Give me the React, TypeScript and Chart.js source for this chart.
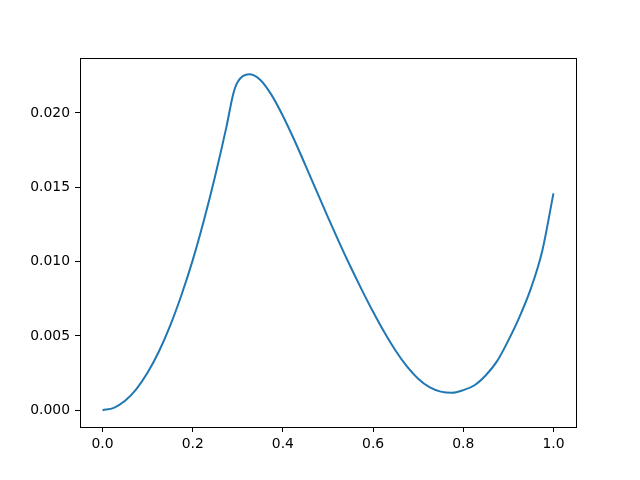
import React, { useEffect, useRef } from "react";
import { Chart, registerables } from "chart.js";

Chart.register(...registerables);

const xValues = [0, 0.025, 0.05, 0.075, 0.1, 0.125, 0.15, 0.175, 0.2, 0.225, 0.25, 0.275, 0.29, 0.3, 0.325, 0.35, 0.375, 0.4, 0.425, 0.45, 0.475, 0.5, 0.525, 0.55, 0.575, 0.6, 0.625, 0.65, 0.675, 0.7, 0.725, 0.75, 0.775, 0.8, 0.825, 0.85, 0.875, 0.9, 0.925, 0.95, 0.975, 1.0];
const yValues = [0, 0.00016, 0.00063, 0.00142, 0.00253, 0.00395, 0.00569, 0.00775, 0.0101, 0.0128, 0.0158, 0.0191, 0.0213, 0.0221, 0.0226, 0.02222, 0.0212, 0.0198, 0.0182, 0.01648, 0.01472, 0.01298, 0.01128, 0.00965, 0.0081, 0.00662, 0.00524, 0.004, 0.00295, 0.00212, 0.00155, 0.00125, 0.00117, 0.00135, 0.00168, 0.00235, 0.0033, 0.0047, 0.0063, 0.0082, 0.0107, 0.01459];
const xTicks = [0, 0.2, 0.4, 0.6, 0.8, 1.0];
const yTicks = [0, 0.005, 0.01, 0.015, 0.02];

const framePlugin = {
  id: "frame",
  afterDraw(chart: any) {
    const { ctx, chartArea } = chart;
    ctx.save();
    ctx.strokeStyle = "#000";
    ctx.lineWidth = 1;
    ctx.strokeRect(Math.round(chartArea.left) + 0.5, Math.round(chartArea.top) + 0.5, Math.round(chartArea.right - chartArea.left), Math.round(chartArea.bottom - chartArea.top));
    ctx.restore();
  },
};

export default function App() {
  const ref = useRef<HTMLCanvasElement>(null);
  useEffect(() => {
    const font = { family: "DejaVu Sans", size: 13.9 };
    const chart = new Chart(ref.current!, {
      type: "line",
      data: {
        datasets: [
          {
            data: xValues.map((x, i) => ({ x, y: yValues[i] })),
            borderColor: "#1f77b4",
            borderWidth: 2,
            pointRadius: 0,
            fill: false,
            cubicInterpolationMode: "monotone",
          },
        ],
      },
      plugins: [framePlugin],
      options: {
        animation: false,
        responsive: false,
        layout: { padding: { left: 0, right: 64, top: 58, bottom: 0 } },
        plugins: { legend: { display: false }, tooltip: { enabled: false } },
        scales: {
          x: {
            type: "linear",
            min: -0.05,
            max: 1.05,
            afterBuildTicks: (s: any) => {
              s.ticks = xTicks.map((v) => ({ value: v }));
            },
            afterFit: (s: any) => {
              s.height = 53;
            },
            ticks: { color: "#000", font, padding: 4, maxRotation: 0, autoSkip: false, callback: (v: any) => Number(v).toFixed(1) },
            grid: { drawOnChartArea: false, drawTicks: true, tickLength: 5, color: "#000" },
            border: { display: true, color: "#000" },
          },
          y: {
            type: "linear",
            min: -0.00113,
            max: 0.0237,
            afterBuildTicks: (s: any) => {
              s.ticks = yTicks.map((v) => ({ value: v }));
            },
            afterFit: (s: any) => {
              s.width = 80;
            },
            ticks: { color: "#000", font, padding: 5, autoSkip: false, callback: (v: any) => Number(v).toFixed(3) },
            grid: { drawOnChartArea: false, drawTicks: true, tickLength: 5, color: "#000" },
            border: { display: true, color: "#000" },
          },
        },
      },
    } as any);
    return () => chart.destroy();
  }, []);
  return (
    <div style={{ position: "fixed", left: 0, top: 0, width: 640, height: 480, background: "#fff" }}>
      <canvas ref={ref} width={640} height={480} />
    </div>
  );
}
